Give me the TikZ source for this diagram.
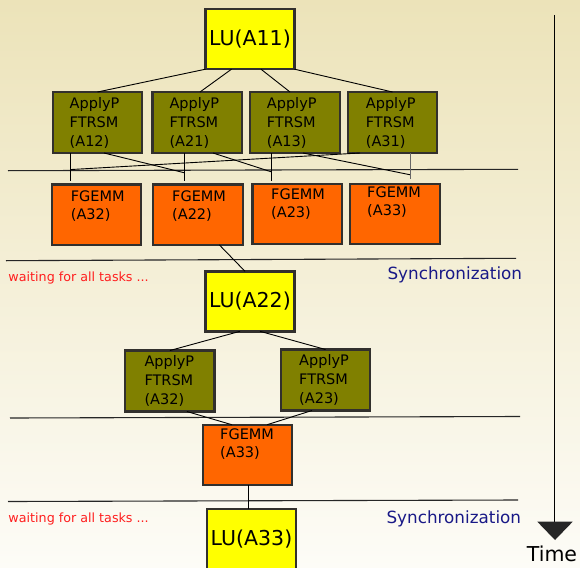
\documentclass[tikz,border=0pt]{standalone}
\usepackage{fontspec}
\setmainfont{DejaVu Sans}
\usetikzlibrary{calc}
\definecolor{bgtop}{RGB}{236,227,185}
\definecolor{bgbot}{RGB}{253,252,247}
\definecolor{luyellow}{RGB}{255,255,0}
\definecolor{trsmolive}{RGB}{128,128,0}
\definecolor{gemmorange}{RGB}{255,102,0}
\definecolor{boxedge}{RGB}{50,48,45}
\definecolor{waitred}{RGB}{255,30,30}
\definecolor{syncblue}{RGB}{25,25,135}
\begin{document}
\begin{tikzpicture}[x=1pt,y=-1pt,
  task/.style={draw=boxedge, line width=2.4pt, inner sep=0pt, outer sep=0pt},
  lubox/.style={task, fill=luyellow, minimum width=89pt, minimum height=60pt, font=\fontsize{20.5}{24}\selectfont},
  trsmbox/.style={task, fill=trsmolive, minimum width=89.5pt, minimum height=61pt},
  gemmbox/.style={task, fill=gemmorange, minimum width=89.5pt, minimum height=60.5pt},
  trsmtxt/.style={anchor=base west, inner sep=0pt, align=left, font=\fontsize{14.5}{19}\selectfont},
  gemmtxt/.style={anchor=base west, inner sep=0pt, align=left, font=\fontsize{14.5}{18}\selectfont},
  dep/.style={line width=0.9pt, black},
  sepline/.style={line width=1.1pt, black!85},
  waittxt/.style={anchor=base west, inner sep=0pt, text=waitred, font=\fontsize{12.7}{15}\selectfont},
  synctxt/.style={anchor=base west, inner sep=0pt, text=syncblue, font=\fontsize{16.8}{20}\selectfont},
]
\useasboundingbox (0,0) rectangle (580,567);
\clip (0,0) rectangle (580,567);
\shade[top color=bgtop, bottom color=bgbot] (0,0) rectangle (580,567);

% separators
\draw[sepline] (8,170.7) -- (518,169.3);
\draw[sepline] (6,260.7) -- (516,258.3);
\draw[sepline] (10,418) -- (520,416.5);
\draw[sepline] (8,501.5) -- (518,500);

% boxes
\node[lubox] (LU11) at (250,39.2) {LU(A11)};
\node[trsmbox] (A12) at (97.5,122.5) {};
\node[trsmbox] (A21) at (197.2,122.5) {};
\node[trsmbox] (A13) at (295,122.5) {};
\node[trsmbox] (A31) at (392.5,122.5) {};
\node[gemmbox] (F32) at (96.5,214.6) {};
\node[gemmbox] (F22) at (198,214.6) {};
\node[gemmbox] (F23) at (297.3,214) {};
\node[gemmbox] (F33) at (395,214) {};
\node[lubox] (LU22) at (250,301.3) {LU(A22)};
\node[trsmbox] (P32) at (169.9,381) {};
\node[trsmbox] (P23) at (325.5,380) {};
\node[gemmbox] (G33) at (247.5,455) {};
\node[lubox] (LU33) at (251.5,539.2) {LU(A33)};

% dependencies
\draw[dep] (LU11.south west) -- (A12.north);
\draw[dep] ($(LU11.south west)+(26,0)$) -- ($(A21.north)+(2.8,0)$);
\draw[dep] ($(LU11.south west)+(55.5,0)$) -- ($(A13.north)+(-5,0)$);
\draw[dep] (LU11.south east) -- (A31.north);

\draw[dep] ($(A12.south)+(-26.8,0)$) -- ($(F32.north)+(-25.8,-3.3)$);
\draw[dep] ($(A12.south)+(6.5,0)$) -- ($(F22.north)+(-13.7,-11.6)$);
\draw[dep] ($(A21.south)+(-12.9,0)$) -- ($(F22.north)+(-13.7,-3.3)$);
\draw[dep] ($(A21.south)+(15.8,0)$) -- ($(F23.north)+(-26.3,-12)$);
\draw[dep] ($(A13.south)+(-24,0)$) -- ($(F23.north)+(-26.3,-2.8)$);
\draw[dep] ($(A13.south)+(8,0)$) -- ($(F33.north)+(15,-9)$);
\draw[dep, black!60] ($(A31.south)+(17.5,0)$) -- ($(F33.north)+(15,-4.5)$);
\draw[dep] ($(A31.south)+(-32.5,0)$) -- ($(F32.north)+(-25.8,-14.8)$);

\draw[dep] ($(F22.south)+(21.3,0)$) -- ($(LU22.north)+(-5,0)$);
\draw[dep] ($(LU22.south)+(-10,0)$) -- (P32.north);
\draw[dep] ($(LU22.south)+(10,0)$) -- (P23.north);
\draw[dep] ($(P32.south)+(17,0)$) -- ($(G33.north)+(-15.5,0)$);
\draw[dep] ($(P23.south)+(-13.5,0)$) -- ($(G33.north)+(19.5,0)$);
\draw[dep] ($(G33.south)+(0.8,0)$) -- ($(LU33.north)+(-3.2,0)$);

% box texts (anchor = baseline of last line)
\node[trsmtxt] (tA12) at (69.5,146) {ApplyP\\FTRSM\\(A12)};
\node[trsmtxt] (tA21) at (169.3,146) {ApplyP\\FTRSM\\(A21)};
\node[trsmtxt] (tA13) at (266.7,146) {ApplyP\\FTRSM\\(A13)};
\node[trsmtxt] (tA31) at (365.7,146) {ApplyP\\FTRSM\\(A31)};
\node[gemmtxt] (tF32) at (70.7,219) {FGEMM\\(A32)};
\node[gemmtxt] (tF22) at (172,219) {FGEMM\\(A22)};
\node[gemmtxt] (tF23) at (271,217.3) {FGEMM\\(A23)};
\node[gemmtxt] (tF33) at (367,215.7) {FGEMM\\(A33)};
\node[trsmtxt] (tP32) at (144.3,404) {ApplyP\\FTRSM\\(A32)};
\node[trsmtxt] (tP23) at (299,403) {ApplyP\\FTRSM\\(A23)};
\node[gemmtxt] (tG33) at (220,457) {FGEMM\\(A33)};

% labels
\node[waittxt] (w1) at (8.3,281.7) {waiting for all tasks ...};
\node[waittxt] (w2) at (8.3,522.5) {waiting for all tasks ...};
\node[synctxt] (s1) at (387.3,279.3) {Synchronization};
\node[synctxt] (s2) at (386.3,523) {Synchronization};

% time axis
\draw[line width=1pt, black] (554.5,15) -- (554.5,523);
\fill[black!85] (537.3,521.7) -- (572.7,521.7) -- (555,540) -- cycle;
\node[anchor=base west, inner sep=0pt, font=\fontsize{20.5}{24}\selectfont] (time) at (526.7,561) {Time};
\end{tikzpicture}
\end{document}
